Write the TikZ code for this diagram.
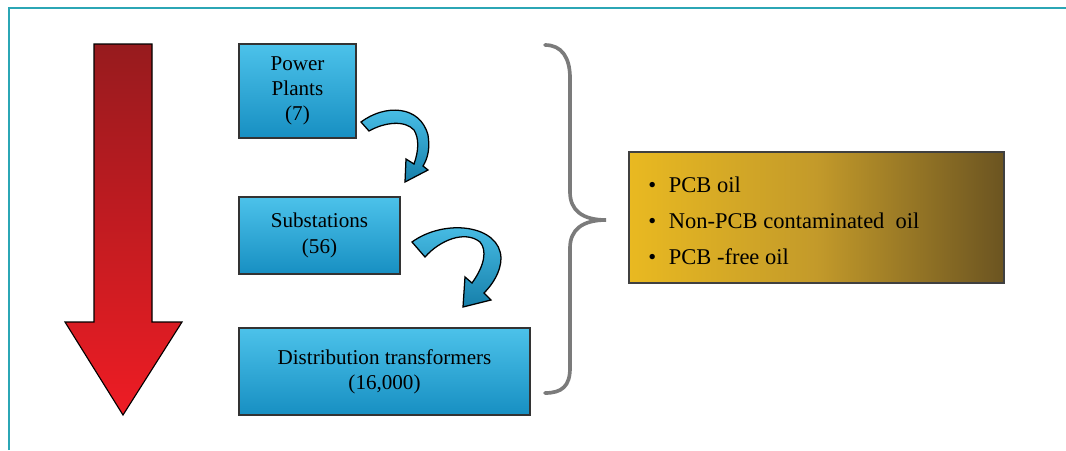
\documentclass[tikz,border=0pt]{standalone}
\usepackage{fontspec}
\setmainfont{Liberation Serif}[Ligatures=TeX]
\usepackage{xcolor}
\usetikzlibrary{calc}
\definecolor{frameteal}{HTML}{2BA6B5}
\definecolor{boxtop}{HTML}{4CC2EA}
\definecolor{boxbot}{HTML}{178FC2}
\definecolor{arrowbot}{HTML}{167FAA}
\definecolor{redtop}{HTML}{971B1E}
\definecolor{redbot}{HTML}{EE1C24}
\definecolor{goldleft}{HTML}{E9B921}
\definecolor{goldmid}{HTML}{C39A2A}
\definecolor{goldright}{HTML}{6B5421}
\definecolor{bracegray}{HTML}{7B7B7B}
\tikzset{
  levelbox/.style={draw=black!80, line width=0.8pt, top color=boxtop, bottom color=boxbot,
    align=center, inner sep=0pt, font=\rmfamily\fontsize{15}{18}\selectfont},
  bentarrow/.style={draw=black, line width=0.9pt, top color=boxtop, bottom color=arrowbot},
  oilbox/.style={draw=black!75, line width=0.8pt, left color=goldleft, right color=goldright,
    middle color=goldmid, minimum width=9.375cm, minimum height=3.275cm},
}
\begin{document}
\begin{tikzpicture}[x=0.025cm, y=-0.025cm]
		\useasboundingbox (0, 0) rectangle (1066, 450);
		% frame
		\draw[frameteal, line width=1pt] (9, 450) -- (9, 8) -- (1066, 8);
		% big red arrow
		\draw[black, line width=0.8pt, top color=redtop, bottom color=redbot]
		  (94, 44) -- (152, 44) -- (152, 322) -- (182, 322) -- (123, 415) -- (65, 322) -- (94, 322) -- cycle;
		% levels
		\node(plant)[levelbox, minimum width=2.925cm, minimum height=2.35cm] at (297.5, 91) {Power\\Plants\\(7)};
		\node(sub)[levelbox, minimum width=4.025cm, minimum height=1.925cm] at (319.5, 235.5) {Substations\\(56)};
		\node(dist)[levelbox, minimum width=7.275cm, minimum height=2.175cm] at (384.5, 371.5) {Distribution transformers\\(16,000)};
		% bent arrows
		\draw[bentarrow] (361, 122) .. controls (385, 104) and (420, 105) .. (428, 135)
		  .. controls (430, 148) and (428, 158) .. (423, 166) -- (428, 170) -- (405, 182) -- (406, 159) -- (414, 164)
		  .. controls (419, 150) and (419, 138) .. (414, 130) .. controls (405, 120) and (385, 122) .. (369, 131) -- cycle;
		\draw[bentarrow] (412, 242) .. controls (445, 218) and (500, 225) .. (501, 258)
		  .. controls (501, 272) and (492, 285) .. (484, 293) -- (491, 300) -- (463, 307) -- (465, 277) -- (472, 283)
		  .. controls (485, 265) and (487, 250) .. (480, 242) .. controls (465, 230) and (440, 240) .. (425, 257) -- cycle;
		% brace
		\draw[bracegray, line width=2.6pt, line cap=round]
		  (545, 45) .. controls (562, 45) and (570, 58) .. (570, 78) -- (570, 192)
		  .. controls (570, 210) and (582, 220) .. (606, 220)
		  .. controls (582, 220) and (570, 230) .. (570, 248) -- (570, 368)
		  .. controls (570, 386) and (562, 393) .. (545, 393);
		% oil types
		\node(oil)[oilbox] at (816.5, 217.5) {};
		\node(oiltypes)[anchor=west, align=left, font=\rmfamily\fontsize{16}{25.5}\selectfont] at ($(oil.west)+(15, 3)$)
		  {\textbullet\hspace{9pt}PCB oil\\\textbullet\hspace{9pt}Non-PCB contaminated\ \ oil\\\textbullet\hspace{9pt}PCB -free oil};
\end{tikzpicture}
\end{document}
